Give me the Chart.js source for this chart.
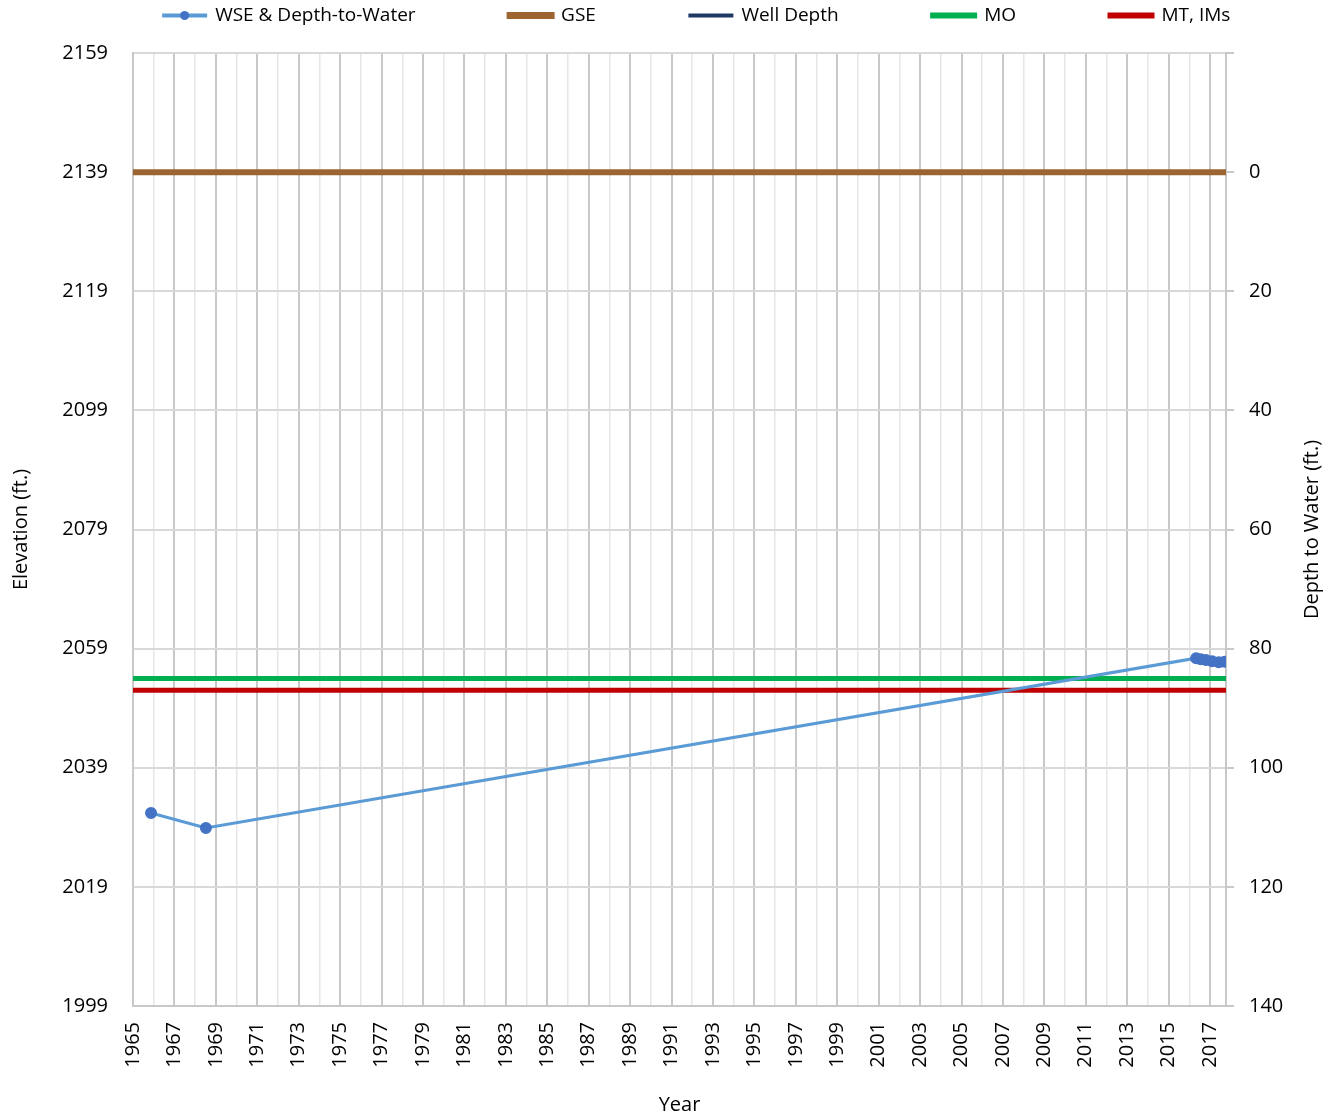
<!DOCTYPE html>
<html>
<head>
<meta charset="utf-8">
<script src="https://cdn.jsdelivr.net/npm/chart.js@4.4.1/dist/chart.umd.min.js"></script>
<style>
  body { margin: 0; background: #fff; }
  canvas { display: block; }
</style>
</head>
<body>
<canvas id="chart" width="1334" height="1120"></canvas>
<script>
// series names as in the legend
const seriesNames = ['WSE & Depth-to-Water', 'GSE', 'Well Depth', 'MO', 'MT, IMs'];

// water surface elevation readings (decimal year / ft)
const wseYears = [1965.87, 1968.52, 2016.33, 2016.55, 2016.80, 2017.10, 2017.42, 2017.70];
const wseElev  = [2031.4, 2028.9, 2057.4, 2057.2, 2057.1, 2056.9, 2056.7, 2056.8];

// reference levels (ft)
const gseElev = 2139;
const moElev = 2054;
const mtElev = 2052;
const wellDepthElev = []; // below the plotted range

// axis extents and ticks
const xStart = 1965;
const xEnd = 2017.77;
const yearLabels = [1965, 1967, 1969, 1971, 1973, 1975, 1977, 1979, 1981, 1983, 1985, 1987, 1989,
  1991, 1993, 1995, 1997, 1999, 2001, 2003, 2005, 2007, 2009, 2011, 2013, 2015, 2017];
const elevTicks = [1999, 2019, 2039, 2059, 2079, 2099, 2119, 2139, 2159];
const depthTicks = [0, 20, 40, 60, 80, 100, 120, 140];

const FONT = 'Open Sans';
Chart.defaults.font.family = FONT;
Chart.defaults.color = '#000';

function flat(level) {
  return [{x: xStart, y: level}, {x: xEnd, y: level}];
}

const excelLook = {
  id: 'excelLook',
  beforeInit(chart) {
    // fixed legend band height, like the workbook
    const fitValue = chart.legend.fit;
    chart.legend.fit = function fit() {
      fitValue.bind(chart.legend)();
      this.height = 53;
    };
  },
  afterLayout(chart) {
    const lg = chart.legend;
    const pad = lg.options.labels.padding;
    lg.top = 6 - pad;
    lg.left += 30;
    lg.right += 30;
  },
  afterDraw(chart, args, options) {
    const {ctx, chartArea: {top, bottom}} = chart;
    ctx.save();

    // marker on the WSE legend line
    const hb = chart.legend.legendHitBoxes[0];
    if (hb) {
      const bw = chart.legend.options.labels.boxWidth;
      ctx.fillStyle = '#4472C4';
      ctx.beginPath();
      ctx.arc(hb.left + bw / 2, hb.top + hb.height / 2, 4.5, 0, Math.PI * 2);
      ctx.fill();
    }

    // right axis title reads bottom-to-top
    const y2 = chart.scales.y2;
    ctx.translate(y2.right - 22, (top + bottom) / 2);
    ctx.rotate(-Math.PI / 2);
    ctx.font = '20px ' + FONT;
    ctx.fillStyle = '#000';
    ctx.textAlign = 'center';
    ctx.textBaseline = 'middle';
    ctx.fillText(options.rightTitle, 0, 0);
    ctx.restore();
  }
};

const legendWidths = [3, 6, 3, 5, 5];

new Chart(document.getElementById('chart'), {
  type: 'line',
  data: {
    datasets: [
      {
        label: seriesNames[0],
        data: wseYears.map((x, i) => ({x: x, y: wseElev[i]})),
        borderColor: '#5B9BD5',
        backgroundColor: '#4472C4',
        pointBackgroundColor: '#4472C4',
        pointBorderColor: '#4472C4',
        borderWidth: 3,
        pointRadius: 4.5,
        order: 0
      },
      {
        label: seriesNames[1],
        data: flat(gseElev),
        borderColor: '#9C6430',
        backgroundColor: '#9C6430',
        borderWidth: 6,
        pointRadius: 0,
        order: 3
      },
      {
        label: seriesNames[2],
        data: wellDepthElev,
        borderColor: '#203864',
        backgroundColor: '#203864',
        borderWidth: 3,
        pointRadius: 0,
        order: 4
      },
      {
        label: seriesNames[3],
        data: flat(moElev),
        borderColor: '#00B050',
        backgroundColor: '#00B050',
        borderWidth: 5,
        pointRadius: 0,
        order: 2
      },
      {
        label: seriesNames[4],
        data: flat(mtElev),
        borderColor: '#C00000',
        backgroundColor: '#C00000',
        borderWidth: 5,
        pointRadius: 0,
        order: 1
      }
    ]
  },
  options: {
    responsive: false,
    animation: false,
    layout: { padding: 0 },
    elements: { line: { tension: 0 } },
    scales: {
      x: {
        type: 'linear',
        min: xStart,
        max: xEnd,
        afterBuildTicks(scale) {
          const t = [];
          for (let v = xStart; v <= Math.floor(xEnd); v++) t.push({value: v});
          scale.ticks = t;
        },
        afterFit(scale) { scale.height = 114; },
        grid: {
          drawTicks: false,
          color: (c) => yearLabels.includes(c.tick && c.tick.value) ? '#C8C8C8' : '#E6E6E6',
          lineWidth: (c) => yearLabels.includes(c.tick && c.tick.value) ? 2 : 1.5
        },
        border: { color: '#C8C8C8', width: 2 },
        ticks: {
          autoSkip: false,
          minRotation: 90,
          maxRotation: 90,
          padding: 16,
          font: { size: 20 },
          callback: (v) => yearLabels.includes(v) ? String(v) : ''
        },
        title: {
          display: true,
          text: 'Year',
          font: { size: 20 },
          padding: { top: 0, bottom: 3 }
        }
      },
      y: {
        position: 'left',
        min: elevTicks[0],
        max: elevTicks[elevTicks.length - 1],
        afterBuildTicks(scale) { scale.ticks = elevTicks.map(v => ({value: v})); },
        afterFit(scale) { scale.width = 133; },
        grid: { drawTicks: false, color: '#D9D9D9', lineWidth: 2 },
        border: { color: '#C8C8C8', width: 2 },
        ticks: { padding: 25, font: { size: 20 }, callback: (v) => String(v) },
        title: {
          display: true,
          text: 'Elevation (ft.)',
          font: { size: 20 },
          padding: { top: 9, bottom: 0 }
        }
      },
      y2: {
        position: 'right',
        reverse: true,
        min: gseElev - elevTicks[elevTicks.length - 1],
        max: gseElev - elevTicks[0],
        afterBuildTicks(scale) {
          scale.ticks = [scale.min].concat(depthTicks).map(v => ({value: v}));
        },
        afterFit(scale) { scale.width = 108; },
        grid: { drawOnChartArea: false, drawTicks: true, tickLength: 8, color: '#C8C8C8', lineWidth: 2 },
        border: { color: '#C8C8C8', width: 2 },
        ticks: {
          padding: 15,
          font: { size: 20 },
          callback: (v) => depthTicks.includes(v) ? String(v) : ''
        }
      }
    },
    plugins: {
      tooltip: { enabled: false },
      legend: {
        position: 'top',
        labels: {
          boxWidth: 42,
          boxHeight: 1,
          padding: 94,
          font: { size: 19 },
          generateLabels: (chart) => chart.data.datasets.map((ds, i) => ({
            datasetIndex: i,
            text: ds.label,
            fillStyle: ds.borderColor,
            strokeStyle: ds.borderColor,
            lineWidth: legendWidths[i],
            fontColor: '#000',
            hidden: false
          }))
        }
      },
      excelLook: { rightTitle: 'Depth to Water (ft.)' }
    }
  },
  plugins: [excelLook]
});
</script>
</body>
</html>
